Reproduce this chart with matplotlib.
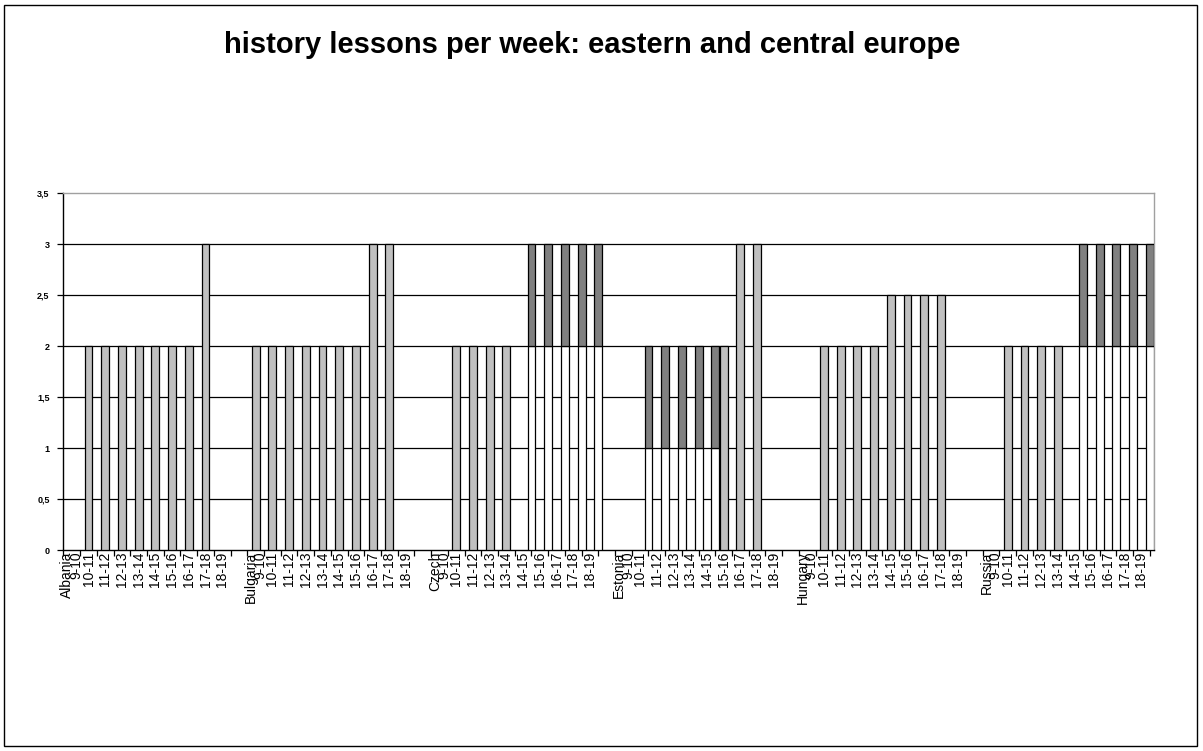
import numpy as np
import matplotlib
matplotlib.use("Agg")
import matplotlib.pyplot as plt
import matplotlib.ticker as mticker
from matplotlib.patches import Rectangle

plt.rcParams["font.family"] = ["Liberation Sans", "DejaVu Sans"]

# ── Data ──────────────────────────────────────────────────────
countries = ["Albania", "Bulgaria", "Czech", "Estonia", "Hungary", "Russia"]
ages = ["9-10", "10-11", "11-12", "12-13", "13-14",
        "14-15", "15-16", "16-17", "17-18", "18-19"]

# fixed number of lessons (light grey bars)
fixed = {
    "Albania":  [0, 2, 2, 2, 2, 2, 2, 2, 3, 0],
    "Bulgaria": [2, 2, 2, 2, 2, 2, 2, 3, 3, 0],
    "Czech":    [0, 2, 2, 2, 2, 0, 0, 0, 0, 0],
    "Estonia":  [0, 0, 0, 0, 0, 0, 2, 3, 3, 0],
    "Hungary":  [0, 2, 2, 2, 2, 2.5, 2.5, 2.5, 2.5, 0],
    "Russia":   [0, 2, 2, 2, 2, 0, 0, 0, 0, 0],
}
# range of lessons: minimum (white) + extra up to maximum (dark grey)
range_min = {
    "Albania":  [0] * 10,
    "Bulgaria": [0] * 10,
    "Czech":    [0, 0, 0, 0, 0, 2, 2, 2, 2, 2],
    "Estonia":  [0, 1, 1, 1, 1, 1, 0, 0, 0, 0],
    "Hungary":  [0] * 10,
    "Russia":   [0, 0, 0, 0, 0, 2, 2, 2, 2, 2],
}
range_extra = {
    "Albania":  [0] * 10,
    "Bulgaria": [0] * 10,
    "Czech":    [0, 0, 0, 0, 0, 1, 1, 1, 1, 1],
    "Estonia":  [0, 1, 1, 1, 1, 1, 0, 0, 0, 0],
    "Hungary":  [0] * 10,
    "Russia":   [0, 0, 0, 0, 0, 1, 1, 1, 1, 1],
}

LIGHT = "#c0c0c0"
DARK = "#808080"
BAR_W = 0.47

# ── Build slot positions (one blank slot between countries) ───
n_age = len(ages)
slot = n_age + 1
n_slots = len(countries) * slot - 1

fig = plt.figure(figsize=(12.03, 7.51), dpi=100)
ax = fig.add_axes([63.5 / 1203, 1 - 550 / 751, (1154 - 63.5) / 1203, (550 - 193) / 751])

centers, labels = [], []
for ci, c in enumerate(countries):
    x = ci * slot + np.arange(n_age) + 0.5
    centers.extend(x)
    labels.extend([f"{c}\n{a}" if i == 0 else a for i, a in enumerate(ages)])

    fv = np.array(fixed[c], dtype=float)
    m = fv > 0
    ax.bar(x[m], fv[m], width=BAR_W, color=LIGHT, edgecolor="black",
           linewidth=0.9, zorder=3)

    lo = np.array(range_min[c], dtype=float)
    ex = np.array(range_extra[c], dtype=float)
    m2 = (lo + ex) > 0
    # range series sits half a category to the right
    ax.bar(x[m2] + 0.5, lo[m2], width=BAR_W, color="white", edgecolor="black",
           linewidth=0.9, zorder=3)
    ax.bar(x[m2] + 0.5, ex[m2], bottom=lo[m2], width=BAR_W, color=DARK,
           edgecolor="black", linewidth=0.9, zorder=3)

ax.set_xlim(0, n_slots + 0.25)
ax.set_ylim(0, 3.5)

# gridlines
yt = np.arange(0, 3.51, 0.5)
ax.set_yticks(yt)
for y in yt[1:-1]:
    ax.axhline(y, color="black", linewidth=0.9, zorder=1)

ax.yaxis.set_major_formatter(
    mticker.FuncFormatter(lambda v, _: f"{v:g}".replace(".", ","))
)
ax.tick_params(axis="y", labelsize=6.5, length=4, width=0.9, pad=6)
for t in ax.get_yticklabels():
    t.set_fontweight("bold")

ax.set_xticks(centers)
ax.set_xticklabels(labels, rotation=90, fontsize=10, linespacing=0.55,
                   multialignment="right")
ax.set_xticks(np.arange(0, n_slots + 1), minor=True)
ax.tick_params(axis="x", which="major", length=0, pad=1)
ax.tick_params(axis="x", which="minor", length=4, width=0.9)

for side in ("left", "bottom"):
    ax.spines[side].set_color("black")
    ax.spines[side].set_linewidth(1.0)
for side in ("top", "right"):
    ax.spines[side].set_color("#a0a0a0")
    ax.spines[side].set_linewidth(1.0)

fig.text(0.492, 1 - 45 / 751, "history lessons per week: eastern and central europe",
         ha="center", va="center", fontsize=21, fontweight="bold")

fig.patches.append(Rectangle((4 / 1203, 5 / 751), 1193 / 1203, 741 / 751,
                             transform=fig.transFigure, fill=False,
                             edgecolor="black", linewidth=1.0))

fig.savefig("out.png", dpi=100)
